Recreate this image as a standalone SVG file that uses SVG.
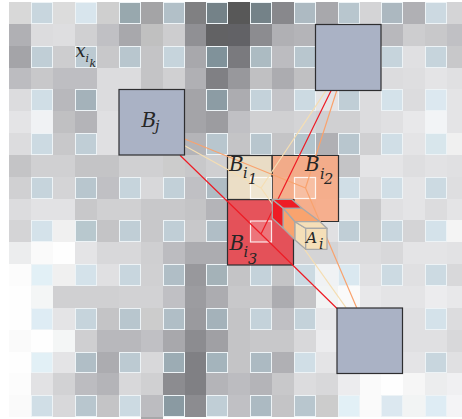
<svg xmlns="http://www.w3.org/2000/svg" width="462" height="419" viewBox="0 0 462 419">
<style>
.b{stroke:#edf3f6;stroke-width:1}
.box{fill:#aab2c5;stroke:#2e2e30;stroke-width:1.2}
.l{fill:none;stroke-width:1.2}
.red{stroke:#ee1c25}
.or{stroke:#f9a36e}
.cr{stroke:#f5deb3}
.t{font-family:"DejaVu Serif","Liberation Serif",serif;font-style:italic;fill:#262626}
.hl{fill:#fff;fill-opacity:.18;stroke:#fff;stroke-width:1.2;stroke-opacity:.85}
.cube{stroke:#a8a8a8;stroke-width:1.3;stroke-linejoin:round}
</style>
<rect width="462" height="419" fill="#fff"/>
<g id="grid">
<rect x="9" y="2" width="22" height="22" fill="#d8d8d8"/><rect x="31.5" y="2.5" width="21" height="21" class="b" fill="#c8d6de"/><rect x="53" y="2" width="22" height="22" fill="#dcdcdc"/><rect x="75.5" y="2.5" width="21" height="21" class="b" fill="#d8e5ed"/><rect x="97" y="2" width="22" height="22" fill="#cfcfcf"/><rect x="119.5" y="2.5" width="21" height="21" class="b" fill="#98a8ae"/><rect x="141" y="2" width="22" height="22" fill="#a4a4a6"/><rect x="163.5" y="2.5" width="21" height="21" class="b" fill="#b2c0c8"/><rect x="185" y="2" width="21" height="22" fill="#808082"/><rect x="206.5" y="2.5" width="21" height="21" class="b" fill="#748288"/><rect x="228" y="2" width="22" height="22" fill="#585858"/><rect x="250.5" y="2.5" width="21" height="21" class="b" fill="#748288"/><rect x="272" y="2" width="22" height="22" fill="#88888c"/><rect x="294.5" y="2.5" width="21" height="21" class="b" fill="#adbac2"/><rect x="316" y="2" width="22" height="22" fill="#a8a8ac"/><rect x="338.5" y="2.5" width="21" height="21" class="b" fill="#b8c6ce"/><rect x="360" y="2" width="21" height="22" fill="#d4d4d6"/><rect x="381.5" y="2.5" width="21" height="21" class="b" fill="#acb8c0"/><rect x="403" y="2" width="22" height="22" fill="#b0b0b4"/><rect x="425.5" y="2.5" width="21" height="21" class="b" fill="#ccd9e1"/><rect x="447" y="2" width="15" height="22" fill="#d4d4d6"/>
<rect x="9" y="24" width="22" height="22" fill="#b0b0b4"/><rect x="31" y="24" width="22" height="22" fill="#dcdcde"/><rect x="53" y="24" width="22" height="22" fill="#dedee0"/><rect x="75" y="24" width="22" height="22" fill="#d0d0d2"/><rect x="97" y="24" width="22" height="22" fill="#c0c0c4"/><rect x="119" y="24" width="22" height="22" fill="#a8a8ac"/><rect x="141" y="24" width="22" height="22" fill="#c0c0c0"/><rect x="163" y="24" width="22" height="22" fill="#cdcdcf"/><rect x="185" y="24" width="21" height="22" fill="#909094"/><rect x="206" y="24" width="22" height="22" fill="#626264"/><rect x="228" y="24" width="22" height="22" fill="#626266"/><rect x="250" y="24" width="22" height="22" fill="#8c8c90"/><rect x="272" y="24" width="22" height="22" fill="#b0b0b4"/><rect x="294" y="24" width="22" height="22" fill="#b4b4b8"/><rect x="316" y="24" width="65" height="22" fill="#b8b8bc"/><rect x="381" y="24" width="22" height="22" fill="#b8b8bc"/><rect x="403" y="24" width="22" height="22" fill="#cdcdcf"/><rect x="425" y="24" width="22" height="22" fill="#c8c8ca"/><rect x="447" y="24" width="15" height="22" fill="#c0c0c4"/>
<rect x="9" y="46" width="22" height="22" fill="#a4a4a8"/><rect x="31.5" y="46.5" width="21" height="21" class="b" fill="#c0ced6"/><rect x="53" y="46" width="22" height="22" fill="#cdcdcf"/><rect x="75.5" y="46.5" width="21" height="21" class="b" fill="#bccad2"/><rect x="97" y="46" width="22" height="22" fill="#c8c8ca"/><rect x="119.5" y="46.5" width="21" height="21" class="b" fill="#b8c6ce"/><rect x="141" y="46" width="22" height="22" fill="#c4c4c6"/><rect x="163.5" y="46.5" width="21" height="21" class="b" fill="#c6d4dc"/><rect x="185" y="46" width="21" height="22" fill="#a8a8ac"/><rect x="206.5" y="46.5" width="21" height="21" class="b" fill="#80929a"/><rect x="228" y="46" width="22" height="22" fill="#7a7a7e"/><rect x="250.5" y="46.5" width="21" height="21" class="b" fill="#acbbc2"/><rect x="272" y="46" width="22" height="22" fill="#bcbcc0"/><rect x="294.5" y="46.5" width="21" height="21" class="b" fill="#b8c6ce"/><rect x="381.5" y="46.5" width="21" height="21" class="b" fill="#c6d4dc"/><rect x="403" y="46" width="22" height="22" fill="#e0e0e2"/><rect x="425.5" y="46.5" width="21" height="21" class="b" fill="#c6d4dc"/><rect x="447" y="46" width="15" height="22" fill="#c8c8ca"/>
<rect x="9" y="68" width="22" height="21" fill="#bcbcc0"/><rect x="31" y="68" width="22" height="21" fill="#c8c8ca"/><rect x="53" y="68" width="22" height="21" fill="#bebec2"/><rect x="75" y="68" width="22" height="21" fill="#bebec2"/><rect x="97" y="68" width="22" height="21" fill="#dcdcde"/><rect x="119" y="68" width="22" height="21" fill="#dcdcde"/><rect x="141" y="68" width="22" height="21" fill="#c4c4c6"/><rect x="163" y="68" width="22" height="21" fill="#d0d0d2"/><rect x="185" y="68" width="21" height="21" fill="#b0b0b4"/><rect x="206" y="68" width="22" height="21" fill="#808084"/><rect x="228" y="68" width="22" height="21" fill="#98989c"/><rect x="250" y="68" width="22" height="21" fill="#c0c0c2"/><rect x="272" y="68" width="22" height="21" fill="#acacb0"/><rect x="294" y="68" width="22" height="21" fill="#c0c0c2"/><rect x="381" y="68" width="22" height="21" fill="#dcdcde"/><rect x="403" y="68" width="22" height="21" fill="#dedee0"/><rect x="425" y="68" width="22" height="21" fill="#e4e4e6"/><rect x="447" y="68" width="15" height="21" fill="#e0e0e2"/>
<rect x="9" y="89" width="22" height="22" fill="#dcdcde"/><rect x="31.5" y="89.5" width="21" height="21" class="b" fill="#d0dee6"/><rect x="53" y="89" width="22" height="22" fill="#b8b8bc"/><rect x="75.5" y="89.5" width="21" height="21" class="b" fill="#a4b2ba"/><rect x="97" y="89" width="22" height="22" fill="#dcdcde"/><rect x="185" y="89" width="21" height="22" fill="#a4a4a8"/><rect x="206.5" y="89.5" width="21" height="21" class="b" fill="#8c9ca4"/><rect x="228" y="89" width="22" height="22" fill="#acacb0"/><rect x="250.5" y="89.5" width="21" height="21" class="b" fill="#c4d2da"/><rect x="272" y="89" width="22" height="22" fill="#c4c4c8"/><rect x="294.5" y="89.5" width="21" height="21" class="b" fill="#ccdae2"/><rect x="316" y="89" width="22" height="22" fill="#e4e4e6"/><rect x="338.5" y="89.5" width="21" height="21" class="b" fill="#c0ced6"/><rect x="360" y="89" width="21" height="22" fill="#dcdcde"/><rect x="381.5" y="89.5" width="21" height="21" class="b" fill="#d4e2ea"/><rect x="403" y="89" width="22" height="22" fill="#dcdcde"/><rect x="425.5" y="89.5" width="21" height="21" class="b" fill="#dce8f0"/><rect x="447" y="89" width="15" height="22" fill="#e4e4e6"/>
<rect x="9" y="111" width="22" height="22" fill="#e4e4e6"/><rect x="31" y="111" width="22" height="22" fill="#f0f2f4"/><rect x="53" y="111" width="22" height="22" fill="#c0c0c2"/><rect x="75" y="111" width="22" height="22" fill="#b4b4b8"/><rect x="97" y="111" width="22" height="22" fill="#e0e0e2"/><rect x="185" y="111" width="21" height="22" fill="#a4a4a8"/><rect x="206" y="111" width="22" height="22" fill="#9c9ca0"/><rect x="228" y="111" width="22" height="22" fill="#c0c0c4"/><rect x="250" y="111" width="22" height="22" fill="#d0d0d2"/><rect x="272" y="111" width="22" height="22" fill="#d0d0d2"/><rect x="294" y="111" width="22" height="22" fill="#d4d4d6"/><rect x="316" y="111" width="22" height="22" fill="#d0d0d2"/><rect x="338" y="111" width="22" height="22" fill="#d0d0d2"/><rect x="360" y="111" width="21" height="22" fill="#dcdcde"/><rect x="381" y="111" width="22" height="22" fill="#e0e0e2"/><rect x="403" y="111" width="22" height="22" fill="#e8e8ea"/><rect x="425" y="111" width="22" height="22" fill="#f2f4f6"/><rect x="447" y="111" width="15" height="22" fill="#e4e4e6"/>
<rect x="9" y="133" width="22" height="22" fill="#dcdcde"/><rect x="31.5" y="133.5" width="21" height="21" class="b" fill="#ccdae2"/><rect x="53" y="133" width="22" height="22" fill="#c8c8ca"/><rect x="75.5" y="133.5" width="21" height="21" class="b" fill="#c0ced6"/><rect x="97" y="133" width="22" height="22" fill="#e0e0e2"/><rect x="185" y="133" width="21" height="22" fill="#b4b4b8"/><rect x="206.5" y="133.5" width="21" height="21" class="b" fill="#b8c6ce"/><rect x="228" y="133" width="22" height="22" fill="#c4c4c6"/><rect x="250.5" y="133.5" width="21" height="21" class="b" fill="#b8c6ce"/><rect x="272" y="133" width="22" height="22" fill="#c4c4c6"/><rect x="294.5" y="133.5" width="21" height="21" class="b" fill="#b4c4cc"/><rect x="316" y="133" width="22" height="22" fill="#b0b0b4"/><rect x="338.5" y="133.5" width="21" height="21" class="b" fill="#b8c6ce"/><rect x="360" y="133" width="21" height="22" fill="#d0d0d2"/><rect x="381.5" y="133.5" width="21" height="21" class="b" fill="#d0dee6"/><rect x="403" y="133" width="22" height="22" fill="#e4e4e6"/><rect x="425.5" y="133.5" width="21" height="21" class="b" fill="#d8e6ec"/><rect x="447" y="133" width="15" height="22" fill="#f0f0f0"/>
<rect x="9" y="155" width="22" height="22" fill="#c4c4c6"/><rect x="31" y="155" width="22" height="22" fill="#d0d0d2"/><rect x="53" y="155" width="22" height="22" fill="#d0d0d2"/><rect x="75" y="155" width="22" height="22" fill="#c4c4c6"/><rect x="97" y="155" width="22" height="22" fill="#c4c4c6"/><rect x="119" y="155" width="22" height="22" fill="#d0d0d2"/><rect x="141" y="155" width="22" height="22" fill="#d0d0d2"/><rect x="163" y="155" width="22" height="22" fill="#cccccc"/><rect x="185" y="155" width="21" height="22" fill="#c8c8ca"/><rect x="206" y="155" width="22" height="22" fill="#cfcfd1"/><rect x="228" y="155" width="22" height="22" fill="#c8c8ca"/><rect x="250" y="155" width="22" height="22" fill="#c8c8ca"/><rect x="272" y="155" width="22" height="22" fill="#b8b8bc"/><rect x="294" y="155" width="22" height="22" fill="#c0c0c4"/><rect x="316" y="155" width="22" height="22" fill="#c0c0c4"/><rect x="338" y="155" width="22" height="22" fill="#c4c4c6"/><rect x="360" y="155" width="21" height="22" fill="#e4e4e6"/><rect x="381" y="155" width="22" height="22" fill="#e4e4e6"/><rect x="403" y="155" width="22" height="22" fill="#dedee0"/><rect x="425" y="155" width="22" height="22" fill="#e2e2e4"/><rect x="447" y="155" width="15" height="22" fill="#e0e0e2"/>
<rect x="9" y="177" width="22" height="22" fill="#d0d0d2"/><rect x="31.5" y="177.5" width="21" height="21" class="b" fill="#c6d4dc"/><rect x="53" y="177" width="22" height="22" fill="#d4d4d6"/><rect x="75.5" y="177.5" width="21" height="21" class="b" fill="#b8c6ce"/><rect x="97" y="177" width="22" height="22" fill="#c0c0c4"/><rect x="119.5" y="177.5" width="21" height="21" class="b" fill="#c6d4dc"/><rect x="141" y="177" width="22" height="22" fill="#d8d8da"/><rect x="163.5" y="177.5" width="21" height="21" class="b" fill="#c2d0d8"/><rect x="185" y="177" width="21" height="22" fill="#c0c0c4"/><rect x="206.5" y="177.5" width="21" height="21" class="b" fill="#afbcc4"/><rect x="228" y="177" width="22" height="22" fill="#d0d0d2"/><rect x="250" y="177" width="22" height="22" fill="#d8e0e4"/><rect x="272" y="177" width="22" height="22" fill="#d0d0d2"/><rect x="294" y="177" width="22" height="22" fill="#d8e0e4"/><rect x="316" y="177" width="22" height="22" fill="#d0d0d2"/><rect x="338.5" y="177.5" width="21" height="21" class="b" fill="#d0dee6"/><rect x="360" y="177" width="21" height="22" fill="#dcdcde"/><rect x="381.5" y="177.5" width="21" height="21" class="b" fill="#d0dee6"/><rect x="403" y="177" width="22" height="22" fill="#e4e4e6"/><rect x="425.5" y="177.5" width="21" height="21" class="b" fill="#ccdae2"/><rect x="447" y="177" width="15" height="22" fill="#dedee0"/>
<rect x="9" y="199" width="22" height="21" fill="#dcdcde"/><rect x="31" y="199" width="22" height="21" fill="#e2e2e4"/><rect x="53" y="199" width="22" height="21" fill="#e2e2e4"/><rect x="75" y="199" width="22" height="21" fill="#c8c8ca"/><rect x="97" y="199" width="22" height="21" fill="#d0d0d2"/><rect x="119" y="199" width="22" height="21" fill="#d0d0d2"/><rect x="141" y="199" width="22" height="21" fill="#c8c8ca"/><rect x="163" y="199" width="22" height="21" fill="#c8c8ca"/><rect x="185" y="199" width="21" height="21" fill="#c4c4c6"/><rect x="206" y="199" width="22" height="21" fill="#b4b4b8"/><rect x="228" y="199" width="22" height="21" fill="#d0d0d2"/><rect x="250" y="199" width="22" height="21" fill="#d0d0d2"/><rect x="272" y="199" width="22" height="21" fill="#d0d0d2"/><rect x="294" y="199" width="22" height="21" fill="#d0d0d2"/><rect x="316" y="199" width="22" height="21" fill="#d8d8da"/><rect x="338" y="199" width="22" height="21" fill="#e4e4e6"/><rect x="360" y="199" width="21" height="21" fill="#c8c8ca"/><rect x="381" y="199" width="22" height="21" fill="#e0e0e2"/><rect x="403" y="199" width="22" height="21" fill="#e4e4e6"/><rect x="425" y="199" width="22" height="21" fill="#dcdcde"/><rect x="447" y="199" width="15" height="21" fill="#e4e4e6"/>
<rect x="9" y="220" width="22" height="22" fill="#d4d4d6"/><rect x="31.5" y="220.5" width="21" height="21" class="b" fill="#d4e2ea"/><rect x="53" y="220" width="22" height="22" fill="#f0f0f0"/><rect x="75.5" y="220.5" width="21" height="21" class="b" fill="#b8c8ce"/><rect x="97" y="220" width="22" height="22" fill="#c4c4c6"/><rect x="119.5" y="220.5" width="21" height="21" class="b" fill="#c0ced6"/><rect x="141" y="220" width="22" height="22" fill="#c8c8ca"/><rect x="163.5" y="220.5" width="21" height="21" class="b" fill="#c0ced6"/><rect x="185" y="220" width="21" height="22" fill="#c8c8ca"/><rect x="206.5" y="220.5" width="21" height="21" class="b" fill="#b0bec6"/><rect x="228" y="220" width="22" height="22" fill="#c8c8ca"/><rect x="250" y="220" width="22" height="22" fill="#d8e0e4"/><rect x="272" y="220" width="22" height="22" fill="#c8c8ca"/><rect x="294" y="220" width="22" height="22" fill="#d4d4d6"/><rect x="316" y="220" width="22" height="22" fill="#e0e0e2"/><rect x="338.5" y="220.5" width="21" height="21" class="b" fill="#c0ced6"/><rect x="360" y="220" width="21" height="22" fill="#cccccc"/><rect x="381.5" y="220.5" width="21" height="21" class="b" fill="#c8d6de"/><rect x="403" y="220" width="22" height="22" fill="#d4d4d6"/><rect x="425.5" y="220.5" width="21" height="21" class="b" fill="#d4e2ea"/><rect x="447" y="220" width="15" height="22" fill="#f4f4f4"/>
<rect x="9" y="242" width="22" height="22" fill="#ecedee"/><rect x="31" y="242" width="22" height="22" fill="#fafafa"/><rect x="53" y="242" width="22" height="22" fill="#fefefe"/><rect x="75" y="242" width="22" height="22" fill="#e4e4e6"/><rect x="97" y="242" width="22" height="22" fill="#d8d8da"/><rect x="119" y="242" width="22" height="22" fill="#d8d8da"/><rect x="141" y="242" width="22" height="22" fill="#cfcfd1"/><rect x="163" y="242" width="22" height="22" fill="#bcbcc0"/><rect x="185" y="242" width="21" height="22" fill="#acacb0"/><rect x="206" y="242" width="22" height="22" fill="#acacb0"/><rect x="228" y="242" width="22" height="22" fill="#c8c8ca"/><rect x="250" y="242" width="22" height="22" fill="#c8c8ca"/><rect x="272" y="242" width="22" height="22" fill="#c8c8ca"/><rect x="294" y="242" width="22" height="22" fill="#d4d4d6"/><rect x="316" y="242" width="22" height="22" fill="#d4d4d6"/><rect x="338" y="242" width="22" height="22" fill="#dcdcde"/><rect x="360" y="242" width="21" height="22" fill="#dcdcde"/><rect x="381" y="242" width="22" height="22" fill="#d8d8da"/><rect x="403" y="242" width="22" height="22" fill="#e4e4e6"/><rect x="425" y="242" width="22" height="22" fill="#e4e4e6"/><rect x="447" y="242" width="15" height="22" fill="#e2e2e4"/>
<rect x="9" y="264" width="22" height="22" fill="#fcfcfc"/><rect x="31.5" y="264.5" width="21" height="21" class="b" fill="#e2f0f6"/><rect x="53" y="264" width="22" height="22" fill="#f0f0f0"/><rect x="75.5" y="264.5" width="21" height="21" class="b" fill="#d4e2ea"/><rect x="97" y="264" width="22" height="22" fill="#e0e0e2"/><rect x="119.5" y="264.5" width="21" height="21" class="b" fill="#c8d6de"/><rect x="141" y="264" width="22" height="22" fill="#d0d0d2"/><rect x="163.5" y="264.5" width="21" height="21" class="b" fill="#b0bec6"/><rect x="185" y="264" width="21" height="22" fill="#98989c"/><rect x="206.5" y="264.5" width="21" height="21" class="b" fill="#a4b2b8"/><rect x="228" y="264" width="22" height="22" fill="#c4c4c6"/><rect x="250.5" y="264.5" width="21" height="21" class="b" fill="#c4d2da"/><rect x="272" y="264" width="22" height="22" fill="#c4c4c6"/><rect x="294.5" y="264.5" width="21" height="21" class="b" fill="#ccdae2"/><rect x="316" y="264" width="22" height="22" fill="#f0f2f4"/><rect x="338.5" y="264.5" width="21" height="21" class="b" fill="#dae8f0"/><rect x="360" y="264" width="21" height="22" fill="#e0e0e2"/><rect x="381.5" y="264.5" width="21" height="21" class="b" fill="#ccdae2"/><rect x="403" y="264" width="22" height="22" fill="#e0e0e2"/><rect x="425.5" y="264.5" width="21" height="21" class="b" fill="#ccdae2"/><rect x="447" y="264" width="15" height="22" fill="#d8d8da"/>
<rect x="9" y="286" width="22" height="22" fill="#fefefe"/><rect x="31" y="286" width="22" height="22" fill="#f4f6f6"/><rect x="53" y="286" width="22" height="22" fill="#d0d0d2"/><rect x="75" y="286" width="22" height="22" fill="#d0d0d2"/><rect x="97" y="286" width="22" height="22" fill="#d0d0d2"/><rect x="119" y="286" width="22" height="22" fill="#d2d2d4"/><rect x="141" y="286" width="22" height="22" fill="#d2d2d4"/><rect x="163" y="286" width="22" height="22" fill="#c0c0c4"/><rect x="185" y="286" width="21" height="22" fill="#9c9ca0"/><rect x="206" y="286" width="22" height="22" fill="#acacb0"/><rect x="228" y="286" width="22" height="22" fill="#c8c8ca"/><rect x="250" y="286" width="22" height="22" fill="#c8c8ca"/><rect x="272" y="286" width="22" height="22" fill="#acacb0"/><rect x="294" y="286" width="22" height="22" fill="#c4c4c6"/><rect x="316" y="286" width="22" height="22" fill="#f2f4f4"/><rect x="338" y="286" width="22" height="22" fill="#fafafa"/><rect x="360" y="286" width="21" height="22" fill="#e8e8ea"/><rect x="381" y="286" width="22" height="22" fill="#e4e4e6"/><rect x="403" y="286" width="22" height="22" fill="#e4e4e6"/><rect x="425" y="286" width="22" height="22" fill="#ececee"/><rect x="447" y="286" width="15" height="22" fill="#e8e8ea"/>
<rect x="9" y="308" width="22" height="22" fill="#fefefe"/><rect x="31.5" y="308.5" width="21" height="21" class="b" fill="#deecf4"/><rect x="53" y="308" width="22" height="22" fill="#e4e4e6"/><rect x="75.5" y="308.5" width="21" height="21" class="b" fill="#c6d4dc"/><rect x="97" y="308" width="22" height="22" fill="#c4c4c6"/><rect x="119.5" y="308.5" width="21" height="21" class="b" fill="#b8c6ce"/><rect x="141" y="308" width="22" height="22" fill="#cccccc"/><rect x="163.5" y="308.5" width="21" height="21" class="b" fill="#b0bec6"/><rect x="185" y="308" width="21" height="22" fill="#9a9a9e"/><rect x="206.5" y="308.5" width="21" height="21" class="b" fill="#a4b2ba"/><rect x="228" y="308" width="22" height="22" fill="#c4c4c6"/><rect x="250.5" y="308.5" width="21" height="21" class="b" fill="#c4d2da"/><rect x="272" y="308" width="22" height="22" fill="#c0c0c4"/><rect x="294.5" y="308.5" width="21" height="21" class="b" fill="#c4d2da"/><rect x="316" y="308" width="22" height="22" fill="#e8e8ea"/><rect x="403" y="308" width="22" height="22" fill="#e0e0e2"/><rect x="425.5" y="308.5" width="21" height="21" class="b" fill="#d4e2ea"/><rect x="447" y="308" width="15" height="22" fill="#dcdcde"/>
<rect x="9" y="330" width="22" height="22" fill="#fafafa"/><rect x="31" y="330" width="22" height="22" fill="#fefefe"/><rect x="53" y="330" width="22" height="22" fill="#f4f6f6"/><rect x="75" y="330" width="22" height="22" fill="#cfcfd1"/><rect x="97" y="330" width="22" height="22" fill="#b8b8bc"/><rect x="119" y="330" width="22" height="22" fill="#b8b8bc"/><rect x="141" y="330" width="22" height="22" fill="#c0c0c4"/><rect x="163" y="330" width="22" height="22" fill="#a8a8ac"/><rect x="185" y="330" width="21" height="22" fill="#8c8c90"/><rect x="206" y="330" width="22" height="22" fill="#a0a0a4"/><rect x="228" y="330" width="22" height="22" fill="#c4c4c6"/><rect x="250" y="330" width="22" height="22" fill="#c8c8ca"/><rect x="272" y="330" width="22" height="22" fill="#c8c8ca"/><rect x="294" y="330" width="22" height="22" fill="#d8d8da"/><rect x="316" y="330" width="22" height="22" fill="#ececee"/><rect x="403" y="330" width="22" height="22" fill="#e0e0e2"/><rect x="425" y="330" width="22" height="22" fill="#e0e0e2"/><rect x="447" y="330" width="15" height="22" fill="#d8d8da"/>
<rect x="9" y="352" width="22" height="21" fill="#fefefe"/><rect x="31.5" y="352.5" width="21" height="20" class="b" fill="#e2f0f6"/><rect x="53" y="352" width="22" height="21" fill="#e4e4e6"/><rect x="75.5" y="352.5" width="21" height="20" class="b" fill="#b0bec6"/><rect x="97" y="352" width="22" height="21" fill="#acacb0"/><rect x="119.5" y="352.5" width="21" height="20" class="b" fill="#bccad2"/><rect x="141" y="352" width="22" height="21" fill="#d8d8da"/><rect x="163.5" y="352.5" width="21" height="20" class="b" fill="#9cacb4"/><rect x="185" y="352" width="21" height="21" fill="#808084"/><rect x="206.5" y="352.5" width="21" height="20" class="b" fill="#a4b4bc"/><rect x="228" y="352" width="22" height="21" fill="#c4c4c6"/><rect x="250.5" y="352.5" width="21" height="20" class="b" fill="#acbac2"/><rect x="272" y="352" width="22" height="21" fill="#b0b0b4"/><rect x="294.5" y="352.5" width="21" height="20" class="b" fill="#d0dee6"/><rect x="316" y="352" width="22" height="21" fill="#e4e4e6"/><rect x="403" y="352" width="22" height="21" fill="#e4e4e6"/><rect x="425.5" y="352.5" width="21" height="20" class="b" fill="#c8d6de"/><rect x="447" y="352" width="15" height="21" fill="#e0e0e2"/>
<rect x="9" y="373" width="22" height="22" fill="#fcfcfc"/><rect x="31" y="373" width="22" height="22" fill="#e2e2e4"/><rect x="53" y="373" width="22" height="22" fill="#d2d2d4"/><rect x="75" y="373" width="22" height="22" fill="#bcbcc0"/><rect x="97" y="373" width="22" height="22" fill="#b4b4b8"/><rect x="119" y="373" width="22" height="22" fill="#d8d8da"/><rect x="141" y="373" width="22" height="22" fill="#d0d0d2"/><rect x="163" y="373" width="22" height="22" fill="#8c8c90"/><rect x="185" y="373" width="21" height="22" fill="#808084"/><rect x="206" y="373" width="22" height="22" fill="#b4b4b8"/><rect x="228" y="373" width="22" height="22" fill="#bcbcc0"/><rect x="250" y="373" width="22" height="22" fill="#b4b4b8"/><rect x="272" y="373" width="22" height="22" fill="#c8c8ca"/><rect x="294" y="373" width="22" height="22" fill="#dcdcde"/><rect x="316" y="373" width="22" height="22" fill="#d8d8da"/><rect x="338" y="373" width="22" height="22" fill="#ececee"/><rect x="360" y="373" width="21" height="22" fill="#fafafa"/><rect x="381" y="373" width="22" height="22" fill="#fefefe"/><rect x="403" y="373" width="22" height="22" fill="#f6f6f6"/><rect x="425" y="373" width="22" height="22" fill="#ecedee"/><rect x="447" y="373" width="15" height="22" fill="#f0f0f2"/>
<rect x="9" y="395" width="22" height="22" fill="#fafafa"/><rect x="31.5" y="395.5" width="21" height="21" class="b" fill="#d0dee6"/><rect x="53" y="395" width="22" height="22" fill="#d8d8da"/><rect x="75.5" y="395.5" width="21" height="21" class="b" fill="#b8c6ce"/><rect x="97" y="395" width="22" height="22" fill="#c4c4c6"/><rect x="119.5" y="395.5" width="21" height="21" class="b" fill="#ccdae2"/><rect x="141" y="395" width="22" height="22" fill="#bcbcc0"/><rect x="163.5" y="395.5" width="21" height="21" class="b" fill="#8a9aa2"/><rect x="185" y="395" width="21" height="22" fill="#8c8c90"/><rect x="206.5" y="395.5" width="21" height="21" class="b" fill="#c0ced6"/><rect x="228" y="395" width="22" height="22" fill="#c0c0c4"/><rect x="250.5" y="395.5" width="21" height="21" class="b" fill="#acbac2"/><rect x="272" y="395" width="22" height="22" fill="#c4c4c6"/><rect x="294.5" y="395.5" width="21" height="21" class="b" fill="#b8c6ce"/><rect x="316" y="395" width="22" height="22" fill="#cccccc"/><rect x="338.5" y="395.5" width="21" height="21" class="b" fill="#e2f0f6"/><rect x="360" y="395" width="21" height="22" fill="#fafafa"/><rect x="381.5" y="395.5" width="21" height="21" class="b" fill="#dce8f0"/><rect x="403" y="395" width="22" height="22" fill="#f2f4f4"/><rect x="425.5" y="395.5" width="21" height="21" class="b" fill="#deecf4"/><rect x="447" y="395" width="15" height="22" fill="#f4f4f6"/>
<rect x="141" y="417" width="22" height="2" fill="#a8a8aa"/>
</g>
<g id="node-Bi3"><rect x="227.5" y="199.5" width="66" height="65.5" fill="#ee2a33" fill-opacity=".75" stroke="#2e2e30" stroke-width="1.2"/><rect x="250.5" y="221" width="21" height="21" class="hl"/></g>
<g id="node-Bi2"><path d="M272 155.5H338.5V221.5H294V199.5H272Z" fill="#fba880" fill-opacity=".85" stroke="#2e2e30" stroke-width="1.2"/><rect x="294.5" y="177.5" width="21" height="21" class="hl"/></g>
<g id="node-Bi1"><rect x="227.5" y="155.5" width="44.5" height="44" fill="#f0e1c3" fill-opacity=".82" stroke="#2e2e30" stroke-width="1.2"/><rect x="250.5" y="177.5" width="21" height="21" class="hl"/></g>
<g id="connectors">
<path class="l cr" d="M184.7 145.7L261 188M326 90.7L261 188M346 307.7L261 188"/>
<path class="l or" d="M184.7 139L305.5 188M336.7 90.7L305.5 188M356.7 307.7L305.5 188"/>
<path class="l red" d="M180 155.3L261 234M331 90.7L261 234M337 308.5L261 234"/>
</g>
<g id="node-Ai">
<path class="cube" fill="#ee1c25" d="M272.3 199.3L283.3 208.3V228.3L272.3 218.3Z"/>
<path class="cube" fill="#ee1c25" d="M272.3 199.3H291.7L302 208.3H283.3Z"/>
<path class="cube" fill="#f9a36e" d="M283.3 208.3L295 221.7V240L283.3 228.3Z"/>
<path class="cube" fill="#f9a36e" d="M283.3 208.3H302L320 221.7H295Z"/>
<path class="cube" fill="#f5dfb8" d="M295 221.7L305.7 228.3V249.3L295 240Z"/>
<path class="cube" fill="#f5dfb8" d="M295 221.7H320L327 228.3H305.7Z"/>
<rect class="cube" x="305.7" y="228.3" width="21.3" height="21" fill="#f5dfb8"/>
<text class="t" x="306" y="242.7" font-size="15.5">A<tspan x="319" y="248.5" font-size="14">i</tspan></text>
</g>
<g id="node-Bj"><rect class="box" x="119" y="89.5" width="65.5" height="65.5"/><text class="t" x="141.5" y="126.7" font-size="20">B<tspan x="155" y="130.5" font-size="14.5">j</tspan></text></g>
<g id="node-top"><rect class="box" x="315.5" y="24.5" width="65.5" height="66"/></g>
<g id="node-bottom"><rect class="box" x="337" y="308" width="65.5" height="65.5"/></g>
<g id="labels">
<text class="t" x="229.5" y="250" font-size="20">B<tspan x="243.5" y="256.5" font-size="14.5">i</tspan><tspan x="248" y="264" font-size="14.5">3</tspan></text>
<text class="t" x="305" y="171" font-size="20">B<tspan x="320" y="179" font-size="14.5">i</tspan><tspan x="324" y="184" font-size="14.5">2</tspan></text>
<text class="t" x="229" y="171" font-size="20">B<tspan x="243" y="177.5" font-size="14.5">i</tspan><tspan x="248" y="184" font-size="14.5">1</tspan></text>
<text class="t" x="75.5" y="57" font-size="18">x<tspan x="85.5" y="62" font-size="11">i</tspan><tspan x="89.5" y="67" font-size="11">k</tspan></text>
</g>
</svg>
